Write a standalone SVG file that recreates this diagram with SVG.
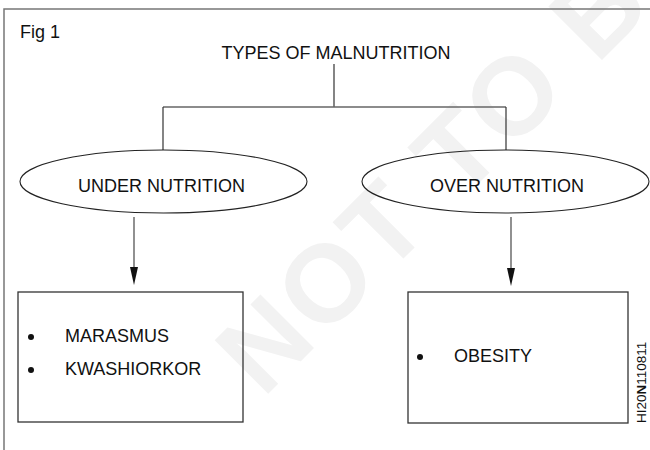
<svg xmlns="http://www.w3.org/2000/svg" width="650" height="450" viewBox="0 0 650 450">
<style>
text{font-family:"Liberation Sans",Arial,sans-serif;fill:#111}
.t{font-size:18px}
.wm{font-size:110px;font-weight:bold;fill:#f2f2f2;letter-spacing:4px}
.frame{fill:none;stroke:#777;stroke-width:1.5}
.conn{fill:none;stroke:#333;stroke-width:1.2}
.hz{stroke:#666;stroke-width:1.5}
.arr{stroke:#555;stroke-width:1.3}
.node{fill:none;stroke:#222;stroke-width:1.1}
.box{fill:none;stroke:#333;stroke-width:1.3}
</style>
<rect width="650" height="450" fill="#fff"/>
<text class="wm" transform="translate(263,399) rotate(-45)">NOT TO BE</text>
<path class="frame" d="M4,450 V9 H650"/>
<text class="t" x="20" y="38">Fig 1</text>
<g id="title"><text class="t" x="336" y="59" text-anchor="middle">TYPES OF MALNUTRITION</text></g>
<g id="connectors">
<line class="conn" x1="334" y1="64" x2="334" y2="107"/>
<line class="hz" x1="163" y1="107" x2="506" y2="107"/>
<line class="conn" x1="163" y1="107" x2="163" y2="150"/>
<line class="conn" x1="506" y1="107" x2="506" y2="150"/>
<path class="arr" d="M134,217 V267"/>
<path d="M130,267 L138,267 L134,285 Z" fill="#111"/>
<path class="arr" d="M511,217 V268"/>
<path d="M507,268 L515,268 L511,286 Z" fill="#111"/>
</g>
<g id="under">
<ellipse class="node" cx="163.5" cy="181.5" rx="143.5" ry="31.5"/>
<text class="t" x="161.5" y="192" text-anchor="middle">UNDER NUTRITION</text>
</g>
<g id="over">
<ellipse class="node" cx="505.5" cy="181.5" rx="143.5" ry="31.5"/>
<text class="t" x="507" y="192" text-anchor="middle">OVER NUTRITION</text>
</g>
<g id="under-list">
<rect class="box" x="18" y="292" width="225" height="130"/>
<circle cx="31" cy="337" r="3" fill="#111"/>
<text class="t" x="65" y="342">MARASMUS</text>
<circle cx="31" cy="370" r="3" fill="#111"/>
<text class="t" x="65" y="375">KWASHIORKOR</text>
</g>
<g id="over-list">
<rect class="box" x="408" y="292" width="220" height="131"/>
<circle cx="420" cy="357" r="3" fill="#111"/>
<text class="t" x="454" y="362">OBESITY</text>
</g>
<text x="646" y="423" font-size="13.5" transform="rotate(-90 646 423)">HI20<tspan font-weight="bold">N</tspan>110811</text>
</svg>
